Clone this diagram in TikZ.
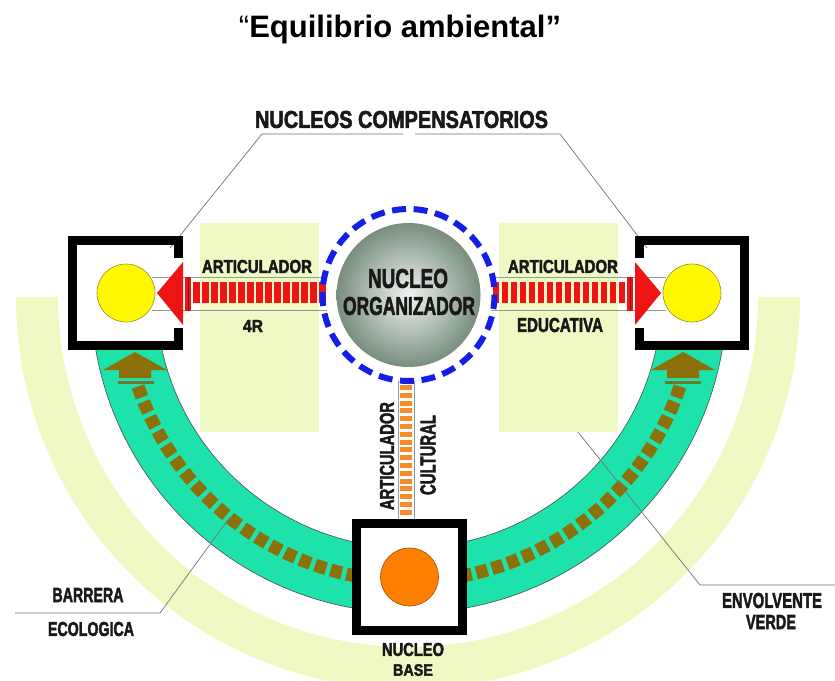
\documentclass[tikz,border=0pt]{standalone}
\usepackage{fontspec}
\setmainfont{Liberation Sans}
\newfontfamily\hv{Liberation Sans Bold}[FakeBold=2.5]
\usepackage{graphicx}
\newcommand{\cl}[3]{\resizebox{#1pt}{#2pt}{\hv #3}}
\definecolor{pale}{RGB}{238,249,196}
\definecolor{teal2}{RGB}{30,226,172}
\definecolor{olive2}{RGB}{140,112,10}
\definecolor{olivebar}{RGB}{110,120,40}
\definecolor{red2}{RGB}{238,20,20}
\definecolor{darkred2}{RGB}{150,10,10}
\definecolor{orangebar}{RGB}{245,140,40}
\definecolor{orange2}{RGB}{255,128,0}
\definecolor{yellow2}{RGB}{255,248,0}
\definecolor{blue2}{RGB}{20,30,230}
\definecolor{sphin}{RGB}{240,244,240}
\definecolor{sphout}{RGB}{120,142,126}
\definecolor{txt}{RGB}{25,25,25}
\begin{document}
\begin{tikzpicture}[x=1pt,y=-1pt,
  lbl/.style={inner sep=0pt,anchor=center,text=txt},
  leader/.style={draw=black!55,line width=0.7pt},
  wall/.style={draw=black,line width=9pt,line cap=butt,line join=miter},
  gline/.style={draw=black!40,line width=0.8pt},
  ycirc/.style={circle,draw={rgb,255:red,150;green,140;blue,50},line width=0.6pt,fill=yellow2,minimum size=58pt,inner sep=0pt},
  ocirc/.style={circle,draw={rgb,255:red,150;green,80;blue,20},line width=0.6pt,fill=orange2,minimum size=58pt,inner sep=0pt}]
\useasboundingbox[fill=white] (0,0) rectangle (835,680);

% pale outer band
\begin{scope}[shift={(408,297)}]
\fill[pale] (0:392) arc[start angle=0,end angle=180,radius=392] -- (180:350) arc[start angle=180,end angle=0,radius=350] -- cycle;
\end{scope}
% pale rectangles
\fill[pale] (200,223) rectangle (319,432);
\fill[pale] (499,223) rectangle (618,432);

% teal band and dashes
\begin{scope}[shift={(409,295)}]
\filldraw[fill=teal2,draw=black!70,line width=0.6pt] (9:318) arc[start angle=9,end angle=171,radius=318] -- (168.5:253) arc[start angle=168.5,end angle=11.5,radius=253] -- cycle;
\foreach \i in {0,...,18}{
  \pgfmathsetmacro\t{101.5+3.261*\i}
  \fill[olive2] (\t-1.15:279.5) -- (\t+1.15:279.5) -- (\t+1.15:292.5) -- (\t-1.15:292.5) -- cycle;
  \pgfmathsetmacro\u{78.5-3.261*\i}
  \fill[olive2] (\u-1.15:279.5) -- (\u+1.15:279.5) -- (\u+1.15:292.5) -- (\u-1.15:292.5) -- cycle;
}
\end{scope}

% olive arrows
\fill[olive2] (135,352) -- (167,370) -- (151,370) -- (151,378) -- (119,378) -- (119,370) -- (103,370) -- cycle;
\fill[olivebar] (118,381) rectangle (154,384);
\fill[olive2] (683,352) -- (715,370) -- (699,370) -- (699,378) -- (667,378) -- (667,370) -- (651,370) -- cycle;
\fill[olivebar] (665,381) rectangle (701,384);

% leader lines
\coordinate (b1) at (230,517); \coordinate (b2) at (160,613); \coordinate (b3) at (15,613);
\draw[leader] (b1) -- (b2) -- (b3);
\coordinate (e1) at (578,432); \coordinate (e2) at (700,585); \coordinate (e3) at (835,585);
\draw[leader] (e1) -- (e2) -- (e3);

% box fills
\fill[white] (68,236) rectangle (183,350);
\fill[white] (635,236) rectangle (749,350);
\fill[white] (352,519) rectangle (467,635);

% compensatorios leaders
\coordinate (n1) at (403,134); \coordinate (n2) at (262,134); \coordinate (n3) at (170,248);
\coordinate (n4) at (415,134); \coordinate (n5) at (560,134); \coordinate (n6) at (647,248);
\draw[leader] (n1) -- (n2) -- (n3);
\draw[leader] (n4) -- (n5) -- (n6);

% articulador thin lines
\draw[gline] (152,277) -- (327,277); \draw[gline] (152,310) -- (327,310);
\draw[gline] (491,277) -- (666,277); \draw[gline] (491,310) -- (666,310);
\draw[gline] (398,381) -- (398,519); \draw[gline] (414,381) -- (414,519);

% circles
\node[ycirc] (yl) at (126,293) {};
\node[ycirc] (yr) at (692,293) {};
\node[ocirc] (ob) at (409.5,577) {};

% red articuladores
\fill[red2] (157,293) -- (183,262) -- (183,325) -- cycle;
\fill[red2] (185,277) rectangle (191,311);
\draw[darkred2,line width=0.8pt] (188,277) -- (188,311);
\foreach \i in {0,...,14} \fill[red2] ({193+9*\i},282) rectangle ({199.5+9*\i},303);
\fill[red2] (661,293) -- (635,262) -- (635,325) -- cycle;
\fill[red2] (627,277) rectangle (633,311);
\draw[darkred2,line width=0.8pt] (630,277) -- (630,311);
\foreach \i in {0,...,14} \fill[red2] ({618.5-9*\i},282) rectangle ({625-9*\i},303);
% orange articulador
\foreach \i in {0,...,16} \fill[orangebar] (400,{385+7.8*\i}) rectangle (412,{390+7.8*\i});

% box walls
\draw[wall] (178.5,258) -- (178.5,240.5) -- (72.5,240.5) -- (72.5,345.5) -- (178.5,345.5) -- (178.5,328);
\draw[wall] (639.5,258) -- (639.5,240.5) -- (744.5,240.5) -- (744.5,345.5) -- (639.5,345.5) -- (639.5,328);
\draw[wall] (356.5,523.5) rectangle (462.5,630.5);

% central sphere
\shade[inner color=sphin,outer color=sphout] (408.5,295) circle[radius=72];
\draw[blue2,line width=6pt,dash pattern=on 14pt off 7.6pt] (408.5,295) circle[radius=86];

% texts
\node[anchor=base,text=black] (title) at (400,37) {\fontsize{31}{31}\selectfont “\textbf{Equilibrio ambiental”}};
\node[lbl] (tcomp) at (401.5,119.5) {\cl{293}{17}{NUCLEOS COMPENSATORIOS}};
\node[lbl] (tal) at (257,266.5) {\cl{110}{13}{ARTICULADOR}};
\node[lbl] (t4r) at (253,326) {\cl{20}{12}{4R}};
\node[lbl] (tno1) at (408,278.5) {\cl{80}{19}{NUCLEO}};
\node[lbl] (tno2) at (409,306) {\cl{132}{18}{ORGANIZADOR}};
\node[lbl] (tar) at (563,266.5) {\cl{110}{13}{ARTICULADOR}};
\node[lbl] (tedu) at (560,325) {\cl{86}{14}{EDUCATIVA}};
\node[lbl,rotate=90] (tac) at (387,456) {\cl{108}{14}{ARTICULADOR}};
\node[lbl,rotate=90] (tcu) at (428,455) {\cl{80}{15}{CULTURAL}};
\node[lbl] (tnb1) at (413,649.5) {\cl{62}{13}{NUCLEO}};
\node[lbl] (tnb2) at (413,670) {\cl{40}{11.5}{BASE}};
\node[lbl] (tba) at (88,595) {\cl{71}{14}{BARRERA}};
\node[lbl] (tec) at (91,629) {\cl{86}{14}{ECOLOGICA}};
\node[lbl] (ten) at (772,600.5) {\cl{100}{15}{ENVOLVENTE}};
\node[lbl] (tve) at (771,622) {\cl{50}{14}{VERDE}};
\end{tikzpicture}
\end{document}
